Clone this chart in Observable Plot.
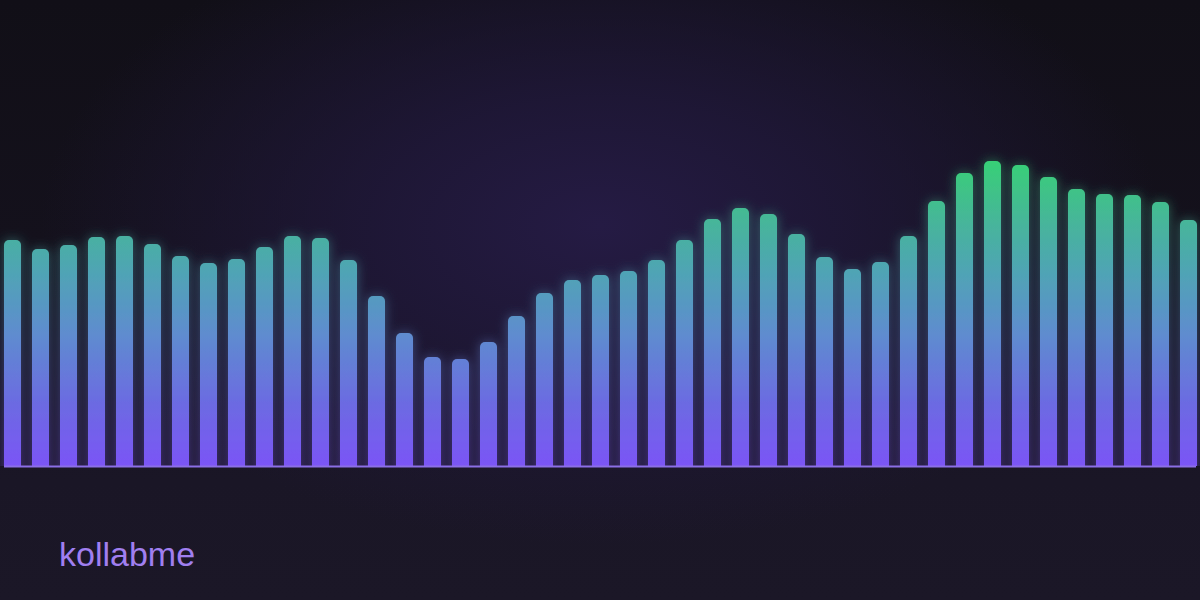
<!DOCTYPE html>
<html>
<head>
<meta charset="utf-8">
<script src="https://cdn.jsdelivr.net/npm/d3@7"></script>
<script src="https://cdn.jsdelivr.net/npm/@observablehq/plot@0.6"></script>
<style>
  html, body { margin: 0; padding: 0; width: 1200px; height: 600px; overflow: hidden; }
  body {
    background:
      radial-gradient(ellipse 560px 320px at 600px 225px, rgba(37,27,68,1) 0%, rgba(32,24,58,0.85) 40%, rgba(22,18,32,0) 100%),
      linear-gradient(to bottom, #110f17 0%, #14111c 40%, #1a1626 80%, #1b1727 100%);
    font-family: "Liberation Sans", Arial, sans-serif;
    position: relative;
  }
  #chart { position: absolute; left: 0; top: 0; }
  #brand {
    position: absolute; left: 59px; top: 537px;
    font-size: 34px; color: #a07ff0; line-height: 1;
    font-family: "Liberation Sans", Arial, sans-serif;
  }
</style>
</head>
<body>
<div id="chart"></div>
<div id="brand">kollabme</div>
<script>
// Bar heights (one per bar, left to right)
const bars = d3.range(43);
const levels = [226, 217, 221, 229, 230, 222, 210, 203, 207, 219, 230, 228, 206, 170,
                133, 109, 107, 124, 150, 173, 186, 191, 195, 206, 226, 247, 258, 252,
                232, 209, 197, 204, 230, 265, 293, 305, 301, 289, 277, 272, 271, 264, 246];
const data = bars.map((i) => ({i, v: levels[i]}));

const defs = () => {
  const d = d3.create("svg:defs");
  const g = d.append("linearGradient")
    .attr("id", "barGrad")
    .attr("gradientUnits", "userSpaceOnUse")
    .attr("x1", 0).attr("x2", 0).attr("y1", 466).attr("y2", 158);
  [[0, "#7b55f6"], [0.2, "#6c6ae2"], [0.42, "#5f8bd0"], [0.62, "#50a3b6"],
   [0.78, "#47b49c"], [0.9, "#3fc386"], [1, "#36d275"]]
    .forEach(([o, c]) => g.append("stop").attr("offset", o).attr("stop-color", c));
  const f = d.append("filter").attr("id", "glow")
    .attr("x", "-50%").attr("y", "-20%").attr("width", "200%").attr("height", "140%");
  f.append("feGaussianBlur").attr("in", "SourceGraphic").attr("stdDeviation", 6).attr("result", "b");
  f.append("feComponentTransfer").attr("in", "b").attr("result", "b2")
    .append("feFuncA").attr("type", "linear").attr("slope", 0.5);
  const m = f.append("feMerge");
  m.append("feMergeNode").attr("in", "b2");
  m.append("feMergeNode").attr("in", "SourceGraphic");
  return d.node();
};

const chart = Plot.plot({
  width: 1200,
  height: 600,
  marginTop: 0,
  marginRight: 0,
  marginLeft: 0,
  marginBottom: 134,
  style: {background: "transparent", overflow: "visible"},
  x: {type: "band", domain: bars, range: [-7, 1208], padding: 11 / 28, axis: null},
  y: {domain: [0, 466], range: [466, 0], axis: null},
  marks: [
    defs,
    Plot.barY(data, {x: "i", y1: () => -12, y2: "v", fill: "url(#barGrad)", rx: 5, clip: true}),
    Plot.ruleY([0], {stroke: "#8b6fe6", strokeWidth: 2, insetLeft: 4, insetRight: 4})
  ]
});
d3.select(chart).select('g[aria-label="bar"]').attr("filter", "url(#glow)");
document.getElementById("chart").append(chart);
</script>
</body>
</html>
